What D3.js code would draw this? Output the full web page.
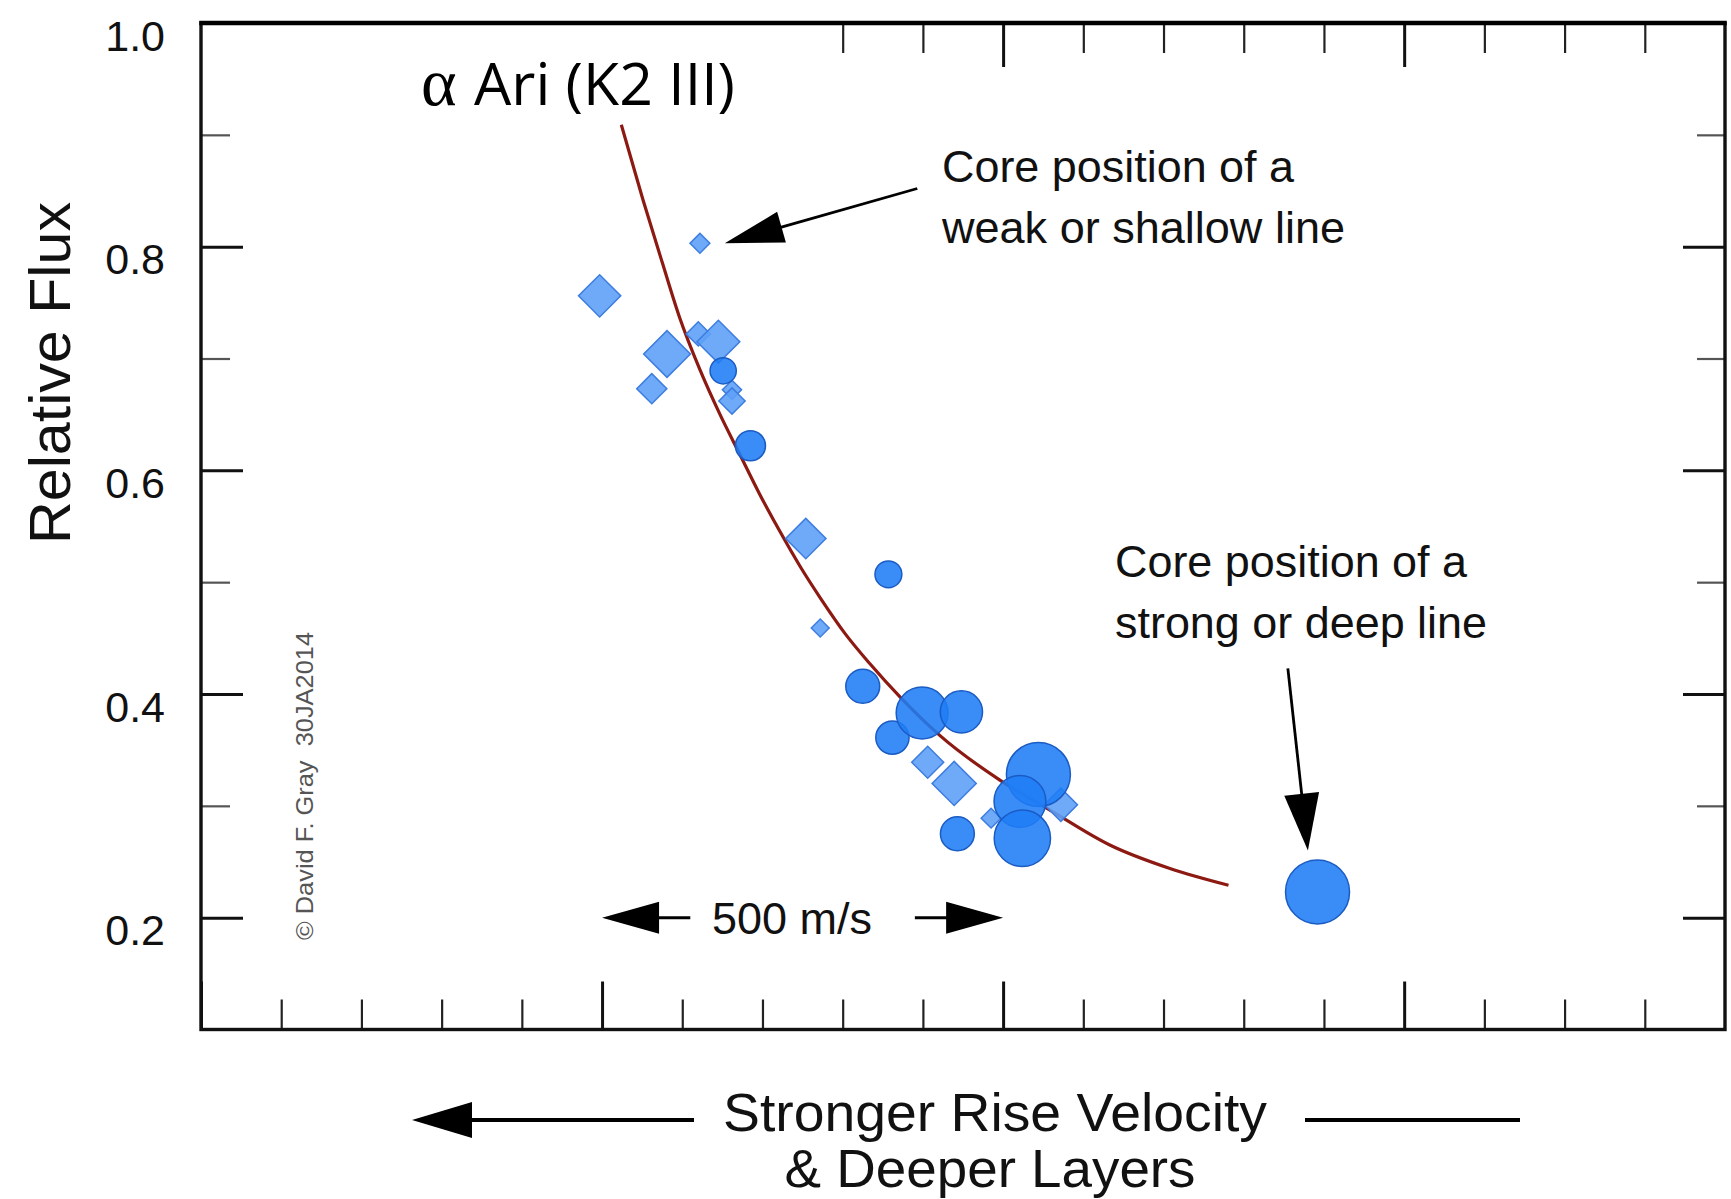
<!DOCTYPE html>
<html>
<head>
<meta charset="utf-8">
<script src="https://cdn.jsdelivr.net/npm/d3@7"></script>
<style>
  html, body { margin: 0; padding: 0; background: #fff; }
  svg { display: block; }
</style>
</head>
<body>
<div class="fluxChart"></div>
<script>
// Tick values
const yMajorTicks = [0.2, 0.4, 0.6, 0.8, 1.0];
const yMinorTicks = [0.3, 0.5, 0.7, 0.9];
const xMajorTicks = [0, 500, 1000, 1500];
const xMinorTicks = [100, 200, 300, 400, 600, 700, 800, 900, 1100, 1200, 1300, 1400, 1600, 1700, 1800];

// Fitted curve (velocity in m/s, relative flux)
const fitVelocity = [524, 551, 575, 597, 622, 647, 672, 697, 722, 747, 772, 803, 834, 872, 921, 996, 1059, 1133, 1208, 1281];
const fitFlux = [0.909, 0.842, 0.786, 0.736, 0.690, 0.650, 0.614, 0.578, 0.545, 0.514, 0.486, 0.454, 0.427, 0.397, 0.363, 0.323, 0.296, 0.265, 0.244, 0.229];

// Line cores shown as circles
const circleVelocity = [651, 685, 857, 825, 862, 899, 948, 943, 1044, 1021, 1024, 1392];
const circleFlux = [0.689, 0.622, 0.507, 0.407, 0.361, 0.383, 0.384, 0.275, 0.328, 0.304, 0.271, 0.223];
const circleWeight = [4.1, 4.7, 4.2, 5.3, 5.2, 8.1, 6.6, 5.3, 10, 8.1, 8.8, 10];

// Line cores shown as diamonds
const diamondVelocity = [622, 497, 581, 562, 620, 645, 662, 662, 754, 772, 906, 939, 985, 1072];
const diamondFlux = [0.803, 0.756, 0.704, 0.673, 0.722, 0.715, 0.672, 0.662, 0.539, 0.459, 0.339, 0.320, 0.289, 0.301];
const diamondWeight = [3.1, 6.6, 7.3, 4.7, 3.8, 6.7, 3.0, 4.1, 6.3, 2.8, 5.0, 6.9, 3.1, 5.2];

const width = 1731, height = 1199;
const margin = { top: 23, right: 6, bottom: 169.5, left: 201 };
const innerW = width - margin.left - margin.right;
const innerH = height - margin.top - margin.bottom;

const svg = d3.select(".fluxChart")
    .append("svg")
    .attr("width", width)
    .attr("height", height);

const x = d3.scaleLinear().domain([0, 1900]).range([margin.left, margin.left + innerW]);
const y = d3.scaleLinear().domain([0.1, 1.0]).range([margin.top + innerH, margin.top]);
const sizeScale = d3.scaleLinear().domain([0, 10]).range([0, 32]);

const sans = "'Liberation Sans', Arial, Helvetica, sans-serif";

// Fit curve
const fitLine = d3.line()
    .x(d => x(d[0]))
    .y(d => y(d[1]))
    .curve(d3.curveMonotoneX);
svg.append("path")
    .datum(d3.zip(fitVelocity, fitFlux))
    .attr("d", fitLine)
    .attr("fill", "none")
    .attr("stroke", "#8c1a12")
    .attr("stroke-width", 3.2);

// Diamonds
svg.selectAll(".diamond")
    .data(d3.range(diamondVelocity.length))
    .join("path")
    .attr("class", "diamond")
    .attr("d", i => d3.symbol(d3.symbolSquare, 2 * Math.pow(sizeScale(diamondWeight[i]), 2))())
    .attr("transform", i => `translate(${x(diamondVelocity[i])},${y(diamondFlux[i])}) rotate(45)`)
    .attr("fill", "#5ea1f7")
    .attr("fill-opacity", 0.9)
    .attr("stroke", "#3d7de0")
    .attr("stroke-width", 1.5);

// Circles
svg.selectAll(".core")
    .data(d3.range(circleVelocity.length))
    .join("circle")
    .attr("class", "core")
    .attr("cx", i => x(circleVelocity[i]))
    .attr("cy", i => y(circleFlux[i]))
    .attr("r", i => sizeScale(circleWeight[i]))
    .attr("fill", "#1f7df6")
    .attr("fill-opacity", 0.88)
    .attr("stroke", "#1b5cc4")
    .attr("stroke-width", 1.5);

// Axes (ticks inward on all four sides)
function drawAxis(axis, tx, ty, sw, color) {
    const g = svg.append("g")
        .attr("transform", `translate(${tx},${ty})`)
        .call(axis);
    g.select(".domain").remove();
    g.selectAll(".tick line").attr("stroke", color).attr("stroke-width", sw);
    return g;
}
const yLeft = drawAxis(d3.axisLeft(y).tickValues(yMajorTicks).tickSize(-42).tickPadding(36)
    .tickFormat(d3.format(".1f")), margin.left, 0, 3, "#111");
yLeft.selectAll("text")
    .attr("dy", 27)
    .style("font-family", sans)
    .style("font-size", "43px")
    .attr("fill", "#111");
drawAxis(d3.axisLeft(y).tickValues(yMinorTicks).tickSize(-29).tickFormat(""), margin.left, 0, 2.2, "#555");
drawAxis(d3.axisRight(y).tickValues(yMajorTicks).tickSize(-42).tickFormat(""), margin.left + innerW, 0, 3, "#111");
drawAxis(d3.axisRight(y).tickValues(yMinorTicks).tickSize(-28).tickFormat(""), margin.left + innerW, 0, 2.2, "#555");
drawAxis(d3.axisBottom(x).tickValues(xMajorTicks).tickSize(-48).tickFormat(""), 0, margin.top + innerH, 3, "#111");
drawAxis(d3.axisBottom(x).tickValues(xMinorTicks).tickSize(-30).tickFormat(""), 0, margin.top + innerH, 2.2, "#222");
drawAxis(d3.axisTop(x).tickValues(xMajorTicks.filter(v => v >= 800)).tickSize(-44).tickFormat(""), 0, margin.top, 3, "#111");
drawAxis(d3.axisTop(x).tickValues(xMinorTicks.filter(v => v >= 800)).tickSize(-30).tickFormat(""), 0, margin.top, 2.2, "#222");

// Frame
svg.append("rect")
    .attr("x", margin.left)
    .attr("y", margin.top)
    .attr("width", innerW)
    .attr("height", innerH)
    .attr("fill", "none")
    .attr("stroke", "#111")
    .attr("stroke-width", 3.4);
svg.append("line")
    .attr("x1", margin.left - 1.7).attr("x2", margin.left + innerW + 1.7)
    .attr("y1", margin.top).attr("y2", margin.top)
    .attr("stroke", "#000")
    .attr("stroke-width", 4.5);

// Arrow helper: line from (x1,y1) with a filled head at (x2,y2)
function arrow(x1, y1, x2, y2, len, half, sw) {
    const a = Math.atan2(y2 - y1, x2 - x1);
    const bx = x2 - len * Math.cos(a), by = y2 - len * Math.sin(a);
    const px = -Math.sin(a) * half, py = Math.cos(a) * half;
    svg.append("line")
        .attr("x1", x1).attr("y1", y1).attr("x2", bx + Math.cos(a)).attr("y2", by + Math.sin(a))
        .attr("stroke", "#000").attr("stroke-width", sw);
    svg.append("path")
        .attr("d", `M${x2},${y2}L${bx + px},${by + py}L${bx - px},${by - py}Z`)
        .attr("fill", "#000");
}

// Annotations
arrow(x(893), y(0.852), x(653), y(0.803), 59, 16, 2.8);
arrow(x(1355), y(0.423), x(1380), y(0.260), 57, 17.5, 2.8);
arrow(x(610), y(0.2), x(500), y(0.2), 57, 16, 3);
arrow(x(890), y(0.2), x(1000), y(0.2), 57, 16, 3);

function label(txt, tx, ty, size, opts = {}) {
    const t = svg.append("text")
        .attr("x", tx)
        .attr("y", ty)
        .text(txt)
        .style("font-family", opts.font || sans)
        .style("font-size", size + "px")
        .style("white-space", "pre")
        .attr("fill", opts.fill || "#111")
        .attr("text-anchor", opts.anchor || "start");
    if (opts.length) t.attr("textLength", opts.length).attr("lengthAdjust", "spacingAndGlyphs");
    if (opts.rotate) t.attr("transform", `rotate(-90,${tx},${ty})`);
    return t;
}

label("Core position of a", 942, 182, 45, { length: 352 });
label("weak or shallow line", 942, 243, 45, { length: 403 });
label("Core position of a", 1115, 577, 45, { length: 352 });
label("strong or deep line", 1115, 638, 45, { length: 372 });
label("500 m/s", 712, 934, 45, { length: 160 });

// Title
label("\u03b1", 421, 105, 68, { font: "'Liberation Serif', 'DejaVu Serif', serif", fill: "#000" });
label("Ari (K2 III)", 474, 105, 58, { font: "'Open Sans', 'Noto Sans', sans-serif", fill: "#000", length: 261 });

// Axis title and credit
label("Relative Flux", 70, 373, 58, { anchor: "middle", rotate: true, length: 342 });
label("\u00a9 David F. Gray  30JA2014", 313, 940, 24, { rotate: true, fill: "#555", length: 308 });

// Direction label under the axis
arrow(694, 1120, 412, 1120, 60, 18, 4);
svg.append("line")
    .attr("x1", 1305).attr("x2", 1520)
    .attr("y1", 1120).attr("y2", 1120)
    .attr("stroke", "#000").attr("stroke-width", 4);
label("Stronger Rise Velocity", 995, 1131, 54, { anchor: "middle", length: 544 });
label("& Deeper Layers", 990, 1187, 54, { anchor: "middle", length: 411 });
</script>
</body>
</html>
